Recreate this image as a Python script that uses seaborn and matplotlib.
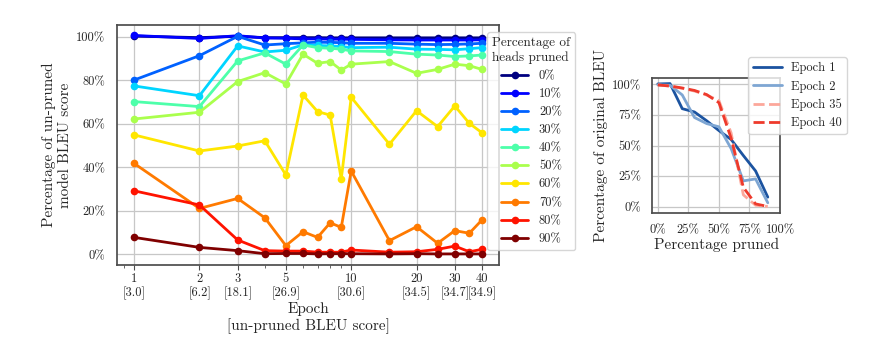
import numpy as np
import pandas as pd
import matplotlib
matplotlib.use("Agg")
import matplotlib.pyplot as plt
from matplotlib import cm
from matplotlib.ticker import FixedLocator, NullFormatter
import seaborn as sns

# ---------------- data ----------------
epochs = [1, 2, 3, 4, 5, 6, 7, 8, 9, 10, 15, 20, 25, 30, 35, 40]
tick_epochs = [1, 2, 3, 5, 10, 20, 30, 40]
tick_bleu = ["3.0", "6.2", "18.1", "26.9", "30.6", "34.5", "34.7", "34.9"]
pruned_pcts = [0, 10, 20, 30, 40, 50, 60, 70, 80, 90]

p0 = [100.3, 99.6, 100.2, 99.6, 99.6, 99.6, 99.6, 99.5, 99.5, 99.5, 99.5, 99.5, 99.5, 99.5, 99.5, 99.5]
p10 = [100.6, 99.2, 100.5, 99.4, 99.3, 99.0, 99.0, 98.9, 98.9, 98.8, 98.6, 98.5, 98.5, 98.5, 98.5, 98.6]
p20 = [80.1, 91.3, 100.2, 96.2, 96.8, 97.2, 97.5, 97.4, 97.3, 97.0, 97.0, 96.6, 96.4, 96.5, 96.7, 97.0]
p30 = [77.4, 72.9, 95.8, 93.0, 93.8, 96.3, 96.0, 95.8, 95.5, 95.0, 95.2, 94.3, 94.2, 94.0, 94.5, 95.0]
p40 = [70.2, 67.9, 88.9, 92.6, 87.4, 96.2, 95.0, 94.7, 94.3, 93.5, 93.2, 92.0, 91.6, 90.9, 91.2, 91.6]
p50 = [62.2, 65.3, 79.4, 83.5, 78.3, 92.0, 87.8, 88.6, 84.7, 87.4, 88.6, 83.2, 85.0, 87.4, 86.7, 85.0]
p60 = [54.9, 47.5, 49.8, 52.2, 36.5, 73.2, 65.6, 64.0, 34.6, 72.2, 50.6, 66.0, 58.7, 68.2, 60.2, 55.9]
p70 = [41.8, 21.1, 25.7, 16.8, 4.0, 10.4, 7.8, 14.5, 12.4, 38.3, 6.3, 12.7, 5.1, 10.9, 9.7, 15.8]
p80 = [29.2, 22.7, 6.6, 1.7, 1.5, 1.5, 1.0, 1.0, 1.0, 2.0, 1.0, 1.2, 2.3, 3.8, 1.2, 2.3]
p90 = [7.8, 3.2, 1.7, 0.3, 0.4, 0.4, 0.2, 0.3, 0.3, 0.3, 0.2, 0.3, 0.2, 0.2, 0.2, 0.2]
series = [p0, p10, p20, p30, p40, p50, p60, p70, p80, p90]

right_epochs = [1, 2, 35, 40]

# ---------------- style ----------------
sns.set_theme(style="whitegrid")
plt.rcParams["font.family"] = ["cmr10", "DejaVu Serif"]
plt.rcParams["axes.formatter.use_mathtext"] = True
plt.rcParams["axes.edgecolor"] = "0.3"
plt.rcParams["grid.color"] = "0.78"
plt.rcParams["grid.linewidth"] = 0.9

fig = plt.figure(figsize=(8.88, 3.37), dpi=100)
ax = fig.add_axes([0.1314, 0.2136, 0.4309, 0.7122])
ax2 = fig.add_axes([0.7346, 0.3688, 0.1438, 0.4006])

labels = [f"{p}%" for p in pruned_pcts]
rows = []
for lab, vals in zip(labels, series):
    for e, v in zip(epochs, vals):
        rows.append({"epoch": e, "value": v, "pruned": lab})
df = pd.DataFrame(rows)

jet_cols = [cm.jet(x) for x in np.linspace(0, 1, len(pruned_pcts))]
palette = dict(zip(labels, jet_cols))

sns.lineplot(data=df, x="epoch", y="value", hue="pruned", hue_order=labels,
             palette=palette, marker="o", markersize=5.5, markeredgewidth=0,
             linewidth=2.0, ax=ax, legend=True)
ax.set_xscale("log")
ax.xaxis.set_major_locator(FixedLocator(tick_epochs))
ax.set_xticklabels([f"{e}\n[{b}]" for e, b in zip(tick_epochs, tick_bleu)])
ax.xaxis.set_minor_formatter(NullFormatter())
ax.set_yticks([0, 20, 40, 60, 80, 100])
ax.set_yticklabels([f"{v}%" for v in [0, 20, 40, 60, 80, 100]])
ax.set_ylim(-4.9, 105.4)
ax.tick_params(axis="x", which="major", bottom=True, length=3.5, width=0.8,
               color="0.3", labelsize=9, pad=2)
ax.tick_params(axis="x", which="minor", bottom=True, length=2, width=0.6, color="0.3")
ax.tick_params(axis="y", labelsize=9, pad=2)
ax.grid(True, which="major")
ax.grid(False, which="minor")
ax.set_xlabel("Epoch\n[un-pruned BLEU score]", fontsize=11, labelpad=1)
ax.set_ylabel("Percentage of un-pruned\nmodel BLEU score", fontsize=11, labelpad=3)
handles, _ = ax.get_legend_handles_labels()
leg = ax.legend(handles=handles, labels=labels, title="Percentage of\nheads pruned",
                loc="upper left", bbox_to_anchor=(0.9686, 0.9696), borderaxespad=0,
                fontsize=9, title_fontsize=9.5, frameon=True, handlelength=2.2,
                handletextpad=0.85, labelspacing=0.48)
leg.get_frame().set_edgecolor("0.8")

# ---------------- right plot ----------------
right_names = [f"Epoch {e}" for e in right_epochs]
rrows = []
for e, name in zip(right_epochs, right_names):
    idx = epochs.index(e)
    for p, vals in zip(pruned_pcts, series):
        rrows.append({"pruned": p, "value": vals[idx], "epoch": name})
rdf = pd.DataFrame(rrows)
rpal = dict(zip(right_names, ["#1b53a0", "#7ea6d3", "#fca79a", "#ee3a2c"]))
rdash = dict(zip(right_names, ["", "", (4, 1.6), (4, 1.6)]))
sns.lineplot(data=rdf, x="pruned", y="value", hue="epoch", style="epoch",
             hue_order=right_names, style_order=right_names,
             palette=rpal, dashes=rdash, linewidth=2.0, ax=ax2)
ax2.set_xlim(-4.5, 100)
ax2.set_ylim(-4.9, 105.4)
ax2.set_xticks([0, 25, 50, 75, 100])
ax2.set_xticklabels(["0%", "25%", "50%", "75%", "100%"])
ax2.set_yticks([0, 25, 50, 75, 100])
ax2.set_yticklabels(["0%", "25%", "50%", "75%", "100%"])
ax2.tick_params(labelsize=9, pad=2)
ax2.set_xlabel("Percentage pruned", fontsize=11, labelpad=1)
ax2.set_ylabel("Percentage of original BLEU", fontsize=11, labelpad=3)
h2, _ = ax2.get_legend_handles_labels()
leg2 = ax2.legend(handles=h2, labels=right_names, loc="upper left",
                  bbox_to_anchor=(0.752, 1.151), borderaxespad=0, fontsize=9,
                  frameon=True, handlelength=2.3, handletextpad=0.7,
                  labelspacing=0.48)
leg2.get_frame().set_edgecolor("0.8")

fig.savefig("out.png", dpi=100)
